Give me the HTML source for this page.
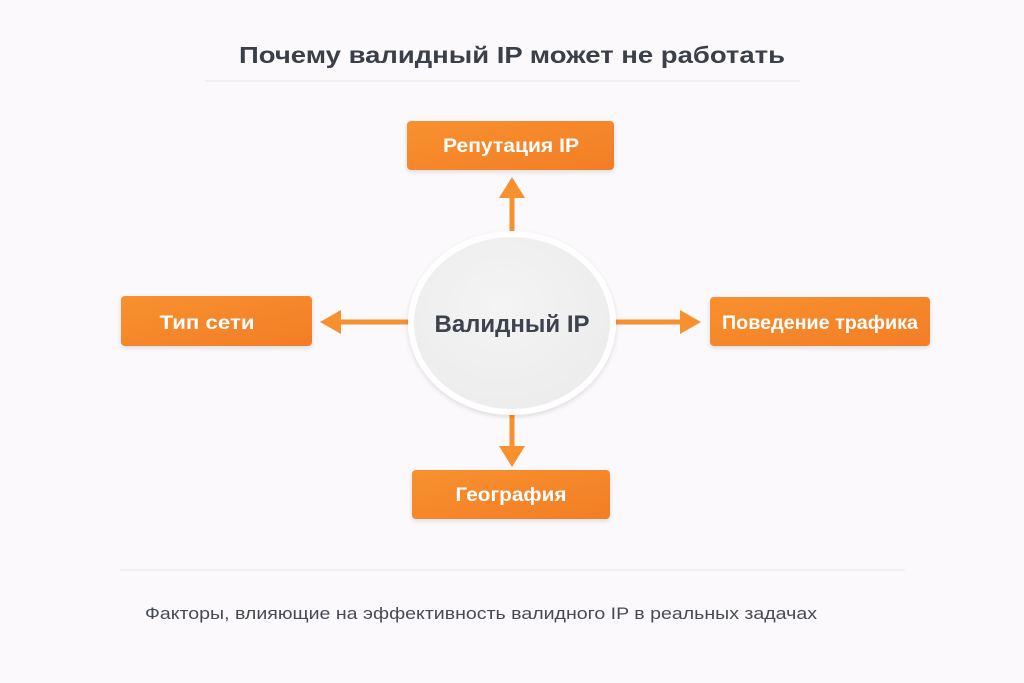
<!DOCTYPE html>
<html><head><meta charset="utf-8"><style>
html,body{margin:0;padding:0;background:#fbf9fb;}
svg{display:block}
text{font-family:"Liberation Sans","DejaVu Sans",sans-serif;}
</style></head><body>
<svg width="1024" height="683" viewBox="0 0 1024 683" xmlns="http://www.w3.org/2000/svg">
<defs>
<linearGradient id="og" x1="0" y1="0" x2="1" y2="1">
<stop offset="0" stop-color="#f8912f"/><stop offset="1" stop-color="#f27d26"/>
</linearGradient>
<radialGradient id="cg" cx="0.45" cy="0.4" r="0.7">
<stop offset="0" stop-color="#f4f4f4"/><stop offset="1" stop-color="#ebebec"/>
</radialGradient>
<filter id="sh" x="-20%" y="-20%" width="140%" height="150%">
<feDropShadow dx="0" dy="2" stdDeviation="2.5" flood-color="#000" flood-opacity="0.12"/>
</filter>
</defs>
<rect width="1024" height="683" fill="#fbf9fb"/>
<text x="512" y="63" text-anchor="middle" font-size="23" font-weight="bold" fill="#3a3f4a" textLength="546" lengthAdjust="spacingAndGlyphs">Почему валидный IP может не работать</text>
<line x1="205" y1="81" x2="800" y2="81" stroke="#e8e4e8" stroke-width="1"/>

<g stroke="#f7902f" stroke-width="5" fill="none">
<line x1="512" y1="235" x2="512" y2="195"/>
<line x1="410" y1="322" x2="336" y2="322"/>
<line x1="614" y1="322" x2="685" y2="322"/>
<line x1="512" y1="412" x2="512" y2="450"/>
</g>
<g fill="#f7902f">
<polygon points="512,177 499,198 525,198"/>
<polygon points="320,322 341,310 341,334"/>
<polygon points="701,322 680,310 680,334"/>
<polygon points="512,467 499,446 525,446"/>
</g>

<ellipse cx="512" cy="323" rx="101" ry="89" fill="url(#cg)" stroke="#ffffff" stroke-width="6" filter="url(#sh)"/>
<text x="512" y="332" text-anchor="middle" font-size="24" font-weight="bold" fill="#3d424d" textLength="155" lengthAdjust="spacingAndGlyphs">Валидный IP</text>

<g filter="url(#sh)">
<rect x="407" y="121" width="207" height="49" rx="4" fill="url(#og)"/>
<rect x="121" y="296" width="191" height="50" rx="4" fill="url(#og)"/>
<rect x="710" y="297" width="220" height="49" rx="4" fill="url(#og)"/>
<rect x="412" y="470" width="198" height="49" rx="4" fill="url(#og)"/>
</g>
<g fill="#fff" font-weight="bold" text-anchor="middle" font-size="19">
<text x="511" y="152" textLength="136" lengthAdjust="spacingAndGlyphs">Репутация IP</text>
<text x="207" y="329" textLength="95" lengthAdjust="spacingAndGlyphs">Тип сети</text>
<text x="820" y="329" textLength="196" lengthAdjust="spacingAndGlyphs">Поведение трафика</text>
<text x="511" y="501" textLength="111" lengthAdjust="spacingAndGlyphs">География</text>
</g>

<line x1="120" y1="570" x2="905" y2="570" stroke="#ebe7eb" stroke-width="1"/>
<text x="145" y="619" font-size="17" fill="#474b54" textLength="672" lengthAdjust="spacingAndGlyphs">Факторы, влияющие на эффективность валидного IP в реальных задачах</text>
</svg>
</body></html>
